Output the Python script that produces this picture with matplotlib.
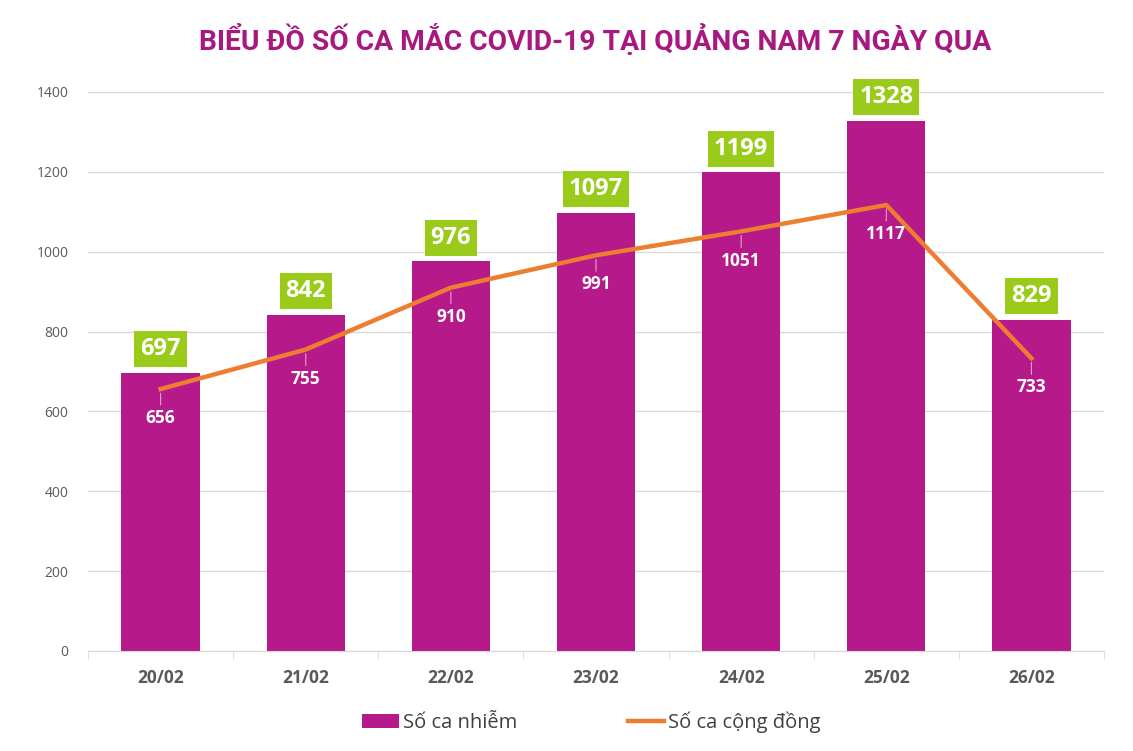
import numpy as np
import matplotlib.pyplot as plt

days = ['20/02', '21/02', '22/02', '23/02', '24/02', '25/02', '26/02']
so_ca_nhiem = [697, 842, 976, 1097, 1199, 1328, 829]
so_ca_cong_dong = [656, 755, 910, 991, 1051, 1117, 733]

plt.rcParams['font.family'] = ['Open Sans', 'DejaVu Sans']

bar_color = '#B5198A'
line_color = '#ED7D31'
green = '#9BCB1A'

fig = plt.figure(figsize=(11.33, 7.51), dpi=100)
ax = fig.add_axes([0.0777, 0.1332, 0.8967, 0.7443])

x = np.arange(len(days))
bars = ax.bar(x, so_ca_nhiem, width=0.54, color=bar_color, label='Số ca nhiễm', zorder=2)
line, = ax.plot(x, so_ca_cong_dong, color=line_color, lw=3.2, label='Số ca cộng đồng', zorder=3)

# nhan gia tri cot
for xi, v in zip(x, so_ca_nhiem):
    ax.annotate(str(v), (xi, v), xytext=(0, 17), textcoords='offset points',
                ha='center', va='center', color='white', fontsize=17, fontweight='bold',
                bbox=dict(boxstyle='square,pad=0.25', fc=green, ec='none'), zorder=5)

# nhan gia tri duong
for xi, v in zip(x, so_ca_cong_dong):
    ax.annotate(str(v), (xi, v), xytext=(0, -21), textcoords='offset points',
                ha='center', va='center', color='white', fontsize=12.5, fontweight='bold',
                arrowprops=dict(arrowstyle='-', color='#E8A0D0', lw=0.8, shrinkA=1, shrinkB=3),
                zorder=5)

ax.set_xlim(-0.5, len(days) - 0.5)
ax.set_ylim(0, 1400)
ax.set_yticks(range(0, 1401, 200))
ax.yaxis.grid(True, color='#D9D9D9', lw=1, zorder=0)
ax.set_axisbelow(True)
for s in ['top', 'right', 'left']:
    ax.spines[s].set_visible(False)
ax.spines['bottom'].set_color('#D9D9D9')
ax.tick_params(axis='y', length=0, labelsize=10, labelcolor='#595959', pad=14)
ax.set_xticks(x)
ax.set_xticklabels(days, fontsize=12.5, fontweight='bold', color='#595959')
ax.tick_params(axis='x', length=0, pad=13)
ax.set_xticks(np.arange(-0.5, len(days), 1), minor=True)
ax.tick_params(axis='x', which='minor', length=6, color='#D9D9D9')

fig.suptitle('BIỂU ĐỒ SỐ CA MẮC COVID-19 TẠI QUẢNG NAM 7 NGÀY QUA', x=0.525, y=0.968,
             fontsize=20.3, fontweight='bold', color='#A8197F',
             family=['Roboto', 'DejaVu Sans'])

fig.legend([bars, line], ['Số ca nhiễm', 'Số ca cộng đồng'],
           loc='lower center', bbox_to_anchor=(0.522, 0.0), ncol=2, frameon=False,
           fontsize=14.5, labelcolor='#404040', columnspacing=5.5, handlelength=1.8,
           handletextpad=0.2)

fig.savefig('out.png', dpi=100)
